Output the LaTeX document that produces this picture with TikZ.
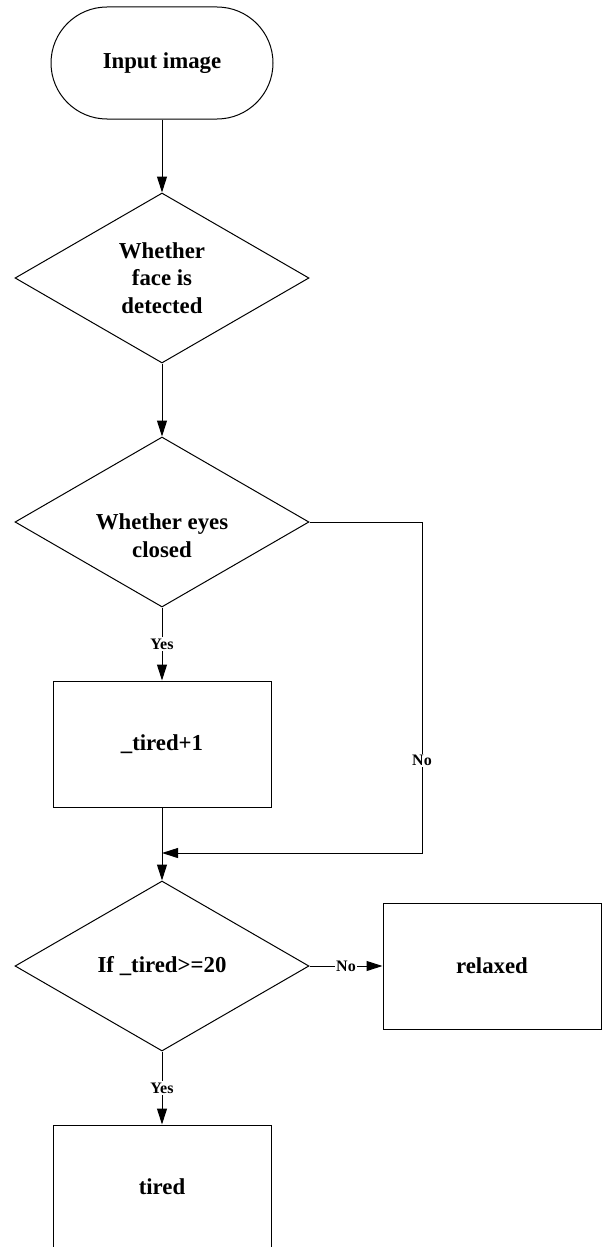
\documentclass[tikz,border=0pt]{standalone}
\usepackage{fontspec}
\setmainfont{Liberation Serif}
\usetikzlibrary{shapes.geometric,arrows.meta}
\tikzset{
  base/.style={draw=black, line width=1pt, font=\bfseries\fontsize{22.8}{27.7}\selectfont, align=center, inner sep=0pt},
  terminal/.style={base, rectangle, rounded corners=56pt, minimum width=222pt, minimum height=112pt},
  decision/.style={base, diamond, aspect=1.73, minimum width=294pt, minimum height=170pt},
  process/.style={base, rectangle, minimum width=218pt, minimum height=126pt},
  txt/.style={font=\bfseries\fontsize{22.8}{27.7}\selectfont, align=center, inner sep=0pt},
  arr/.style={line width=1pt, -{Triangle[length=16pt,width=10pt]}},
  plain/.style={line width=1pt},
  lbl/.style={fill=white, inner sep=1.5pt, font=\bfseries\fontsize{16}{18}\selectfont}
}
\begin{document}
\begin{tikzpicture}[x=1pt,y=-1pt]
\useasboundingbox (0,0) rectangle (604,1247);
\node[terminal] (start) at (162,63) {Input image};
\node[decision] (d1) at (162,278) {Whether\\face is\\detected};
\node[decision] (d2) at (162,522) {};
\node[txt] (d2t) at (162,536) {Whether eyes\\closed};
\node[process] (b1) at (162,744) {\_tired+1};
\node[decision] (d3) at (162,966) {If \_tired>=20};
\node[process] (relaxed) at (492,966) {relaxed};
\node[process, minimum height=124pt] (tired) at (162,1187) {tired};
\coordinate (c1) at (422,522);
\coordinate (c2) at (422,853);
\coordinate (m) at (162,853);
\draw[arr] (start) -- (d1);
\draw[arr] (d1) -- (d2);
\draw[arr] (d2) -- node[lbl] {Yes} (b1);
\draw[arr] (b1) -- (d3);
\draw[arr] (d2.east) -- (c1) -- node[lbl, pos=0.72] {No} (c2) -- (m);
\draw[arr] (d3) -- node[lbl] {No} (relaxed);
\draw[arr] (d3) -- node[lbl] {Yes} (tired);
\end{tikzpicture}
\end{document}
